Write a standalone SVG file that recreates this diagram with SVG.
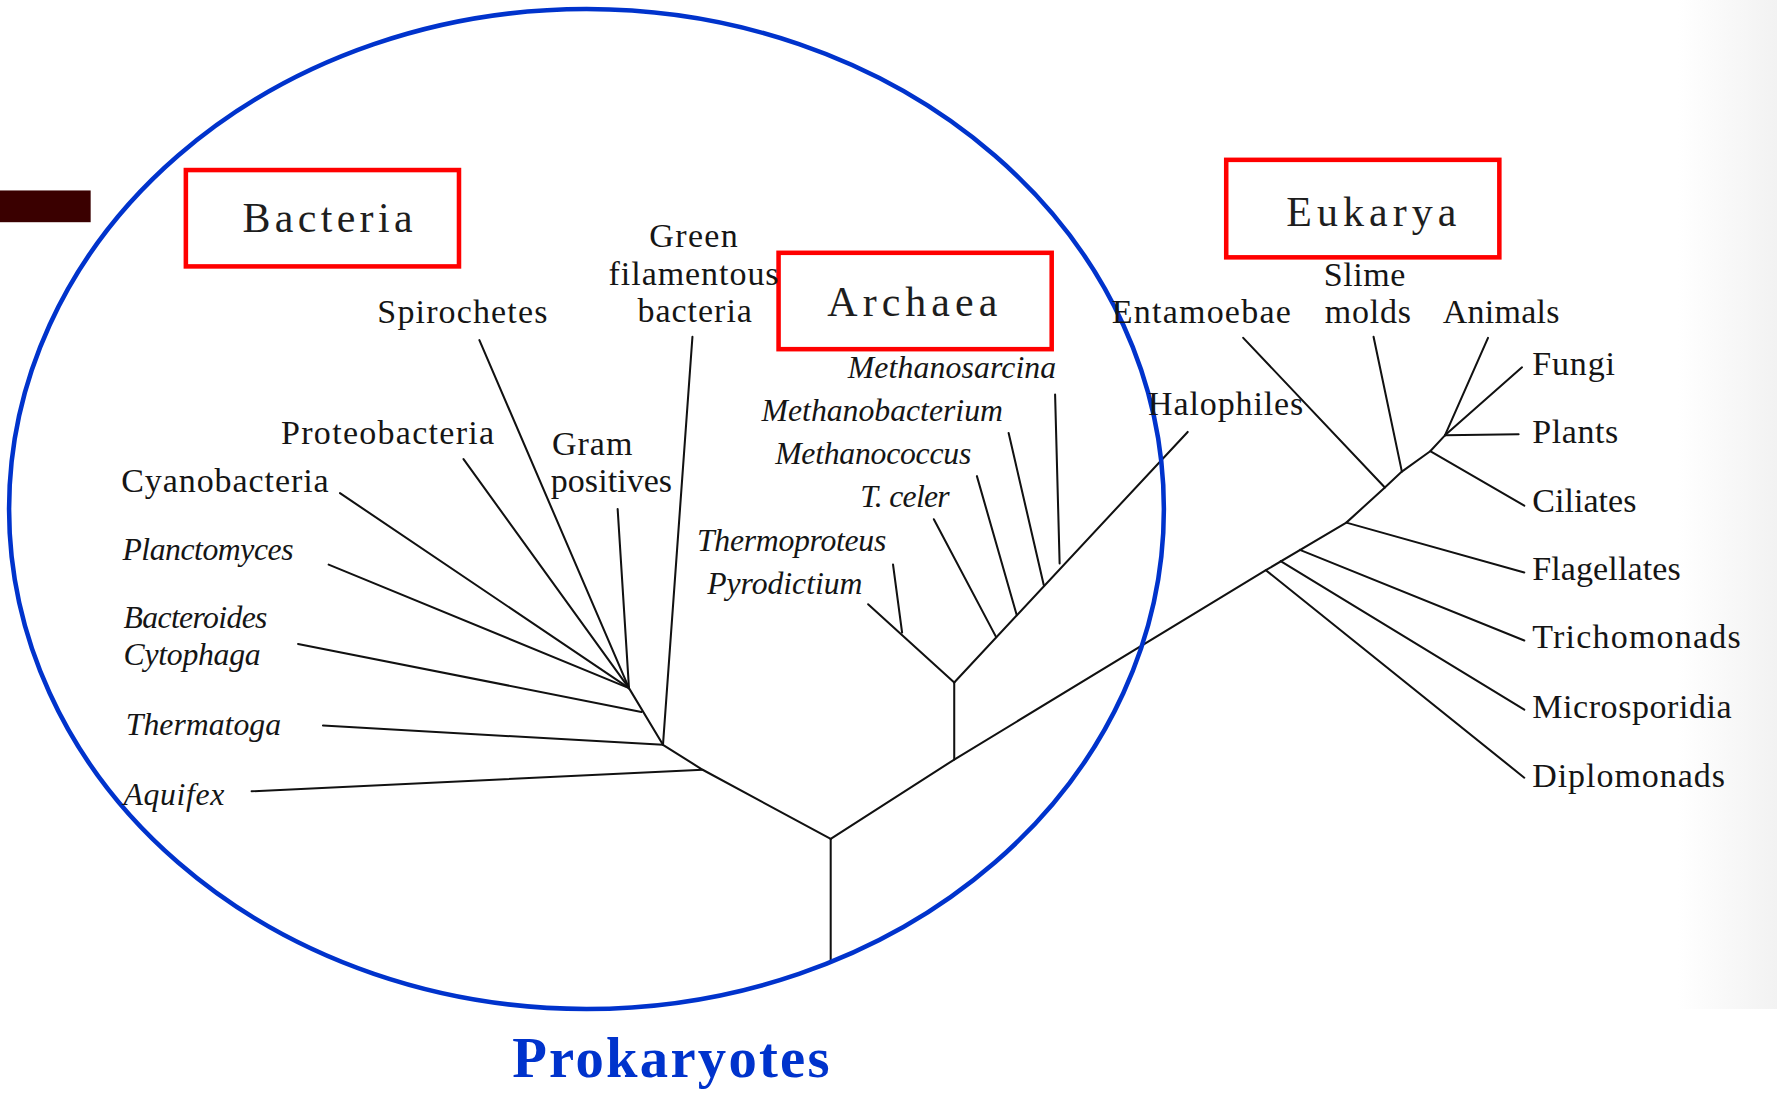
<svg xmlns="http://www.w3.org/2000/svg" width="1777" height="1094" viewBox="0 0 1777 1094">
<defs>
<style>
.lbl{font-family:"Liberation Serif","Times New Roman",serif;font-size:30px;fill:#151515;}
.it{font-style:italic;font-size:28px;}
.dom{font-family:"Liberation Serif","Times New Roman",serif;font-size:37px;fill:#1e1e1e;}
.box{fill:none;stroke:#ff0000;stroke-width:4;}
.edge{fill:none;stroke:#111;stroke-width:1.8;stroke-linecap:round;stroke-linejoin:round;}
</style>
<linearGradient id="bg" x1="0" y1="0" x2="1" y2="0">
<stop offset="0" stop-color="#ffffff"/>
<stop offset="1" stop-color="#f2f2f2"/>
</linearGradient>
</defs>
<rect width="1777" height="1094" fill="#fff"/>
<g transform="scale(1.13329,1.13368)">
<rect x="1480" y="0" width="88" height="890" fill="url(#bg)"/>
<rect id="bar" x="0" y="168" width="80" height="28" fill="#3a0000"/>

<g id="connectors">
<line class="edge" x1="733" y1="848" x2="733" y2="740"/>
<polyline class="edge" points="733,740 620,679 585,657 555,607"/>
<line class="edge" x1="222" y1="698" x2="620" y2="679"/>
<line class="edge" x1="285" y1="640" x2="585" y2="657"/>
<line class="edge" x1="611" y1="297" x2="585" y2="657"/>
<line class="edge" x1="263" y1="568" x2="566" y2="628"/>
<line class="edge" x1="545" y1="449" x2="555" y2="607"/>
<line class="edge" x1="423" y1="300" x2="555" y2="607"/>
<line class="edge" x1="409" y1="405" x2="555" y2="607"/>
<line class="edge" x1="300" y1="435" x2="555" y2="607"/>
<line class="edge" x1="290" y1="498" x2="555" y2="607"/>
<polyline class="edge" points="733,740 842,670 1117,503 1188,461 1222,430 1237,416 1262,398 1275,384"/>
<line class="edge" x1="842" y1="670" x2="842" y2="602"/>
<line class="edge" x1="842" y1="602" x2="766" y2="533"/>
<line class="edge" x1="788" y1="498" x2="796" y2="558"/>
<line class="edge" x1="842" y1="602" x2="1048" y2="381"/>
<line class="edge" x1="824" y1="458" x2="879" y2="562"/>
<line class="edge" x1="862" y1="420" x2="897" y2="542"/>
<line class="edge" x1="890" y1="382" x2="921" y2="516"/>
<line class="edge" x1="931" y1="348" x2="935" y2="497"/>
<line class="edge" x1="1117" y1="503" x2="1345" y2="686"/>
<line class="edge" x1="1130" y1="495" x2="1345" y2="626"/>
<line class="edge" x1="1147" y1="485" x2="1345" y2="565"/>
<line class="edge" x1="1188" y1="461" x2="1345" y2="505"/>
<line class="edge" x1="1262" y1="398" x2="1345" y2="446"/>
<line class="edge" x1="1275" y1="384" x2="1340" y2="383"/>
<line class="edge" x1="1275" y1="384" x2="1343" y2="324"/>
<line class="edge" x1="1275" y1="384" x2="1313" y2="298"/>
<line class="edge" x1="1097" y1="298" x2="1222" y2="430"/>
<line class="edge" x1="1212" y1="297" x2="1237" y2="416"/>
</g>

<g id="prokaryotes">
<ellipse cx="517.5" cy="449" rx="509.5" ry="441" fill="none" stroke="#0033cc" stroke-width="4"/>
<text x="592" y="950" text-anchor="middle" font-family="Liberation Serif, Times New Roman, serif" font-weight="bold" font-size="50" fill="#0033cc" textLength="280">Prokaryotes</text>
</g>

<g id="bacteria-box">
<rect class="box" x="164" y="150" width="241" height="85"/>
<text class="dom" x="289" y="205" text-anchor="middle" textLength="150">Bacteria</text>
</g>
<g id="archaea-box">
<rect class="box" x="687" y="223" width="241" height="85"/>
<text class="dom" x="805" y="279" text-anchor="middle" textLength="150">Archaea</text>
</g>
<g id="eukarya-box">
<rect class="box" x="1082" y="141" width="241" height="86"/>
<text class="dom" x="1210" y="199" text-anchor="middle" textLength="150">Eukarya</text>
</g>

<g id="n-spirochetes"><text class="lbl" x="333" y="285" textLength="150">Spirochetes</text></g>
<g id="n-green"><text class="lbl" x="612" y="218" text-anchor="middle" textLength="78">Green</text><text class="lbl" x="612" y="251" text-anchor="middle" textLength="150">filamentous</text><text class="lbl" x="613" y="284" text-anchor="middle" textLength="101">bacteria</text></g>
<g id="n-proteobacteria"><text class="lbl" x="248" y="392" textLength="188">Proteobacteria</text></g>
<g id="n-gram"><text class="lbl" x="487" y="401" textLength="71">Gram</text><text class="lbl" x="486" y="434" textLength="107">positives</text></g>
<g id="n-cyanobacteria"><text class="lbl" x="107" y="434" textLength="183">Cyanobacteria</text></g>
<g id="n-planctomyces"><text class="lbl it" x="108" y="494" textLength="151">Planctomyces</text></g>
<g id="n-bacteroides"><text class="lbl it" x="109" y="554" textLength="127">Bacteroides</text><text class="lbl it" x="109" y="587" textLength="121">Cytophaga</text></g>
<g id="n-thermatoga"><text class="lbl it" x="111" y="648" textLength="137">Thermatoga</text></g>
<g id="n-aquifex"><text class="lbl it" x="109" y="710" textLength="89">Aquifex</text></g>

<g id="n-methanosarcina"><text class="lbl it" x="748" y="333" textLength="184">Methanosarcina</text></g>
<g id="n-methanobacterium"><text class="lbl it" x="672" y="371" textLength="213">Methanobacterium</text></g>
<g id="n-methanococcus"><text class="lbl it" x="684" y="409" textLength="173">Methanococcus</text></g>
<g id="n-tceler"><text class="lbl it" x="759" y="447" textLength="79">T. celer</text></g>
<g id="n-thermoproteus"><text class="lbl it" x="615" y="486" textLength="167">Thermoproteus</text></g>
<g id="n-pyrodictium"><text class="lbl it" x="624" y="524" textLength="137">Pyrodictium</text></g>
<g id="n-halophiles"><text class="lbl" x="1013" y="366" textLength="137">Halophiles</text></g>

<g id="n-entamoebae"><text class="lbl" x="981" y="285" textLength="158">Entamoebae</text></g>
<g id="n-slime"><text class="lbl" x="1168" y="252" textLength="72">Slime</text><text class="lbl" x="1169" y="285" textLength="76">molds</text></g>
<g id="n-animals"><text class="lbl" x="1273" y="285" textLength="103">Animals</text></g>
<g id="n-fungi"><text class="lbl" x="1352" y="331" textLength="73">Fungi</text></g>
<g id="n-plants"><text class="lbl" x="1352" y="391" textLength="76">Plants</text></g>
<g id="n-ciliates"><text class="lbl" x="1352" y="452" textLength="92">Ciliates</text></g>
<g id="n-flagellates"><text class="lbl" x="1352" y="512" textLength="131">Flagellates</text></g>
<g id="n-trichomonads"><text class="lbl" x="1352" y="572" textLength="184">Trichomonads</text></g>
<g id="n-microsporidia"><text class="lbl" x="1352" y="633" textLength="176">Microsporidia</text></g>
<g id="n-diplomonads"><text class="lbl" x="1352" y="694" textLength="170">Diplomonads</text></g>
</g>
</svg>
